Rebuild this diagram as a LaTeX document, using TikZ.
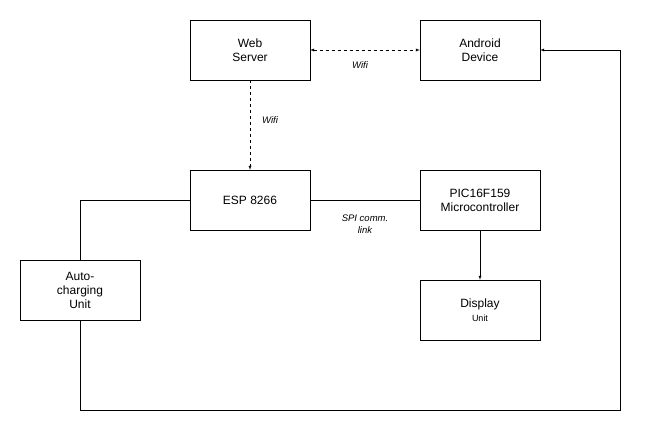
\documentclass[tikz,border=0pt]{standalone}
\usepackage{fontspec}
\setmainfont{Liberation Sans}
\begin{document}
\begin{tikzpicture}[x=1pt,y=-1pt,
  box/.style={draw,minimum width=120pt,minimum height=60pt,align=center,font=\fontsize{12}{14}\selectfont,inner sep=0pt},
  lbl/.style={font=\itshape\fontsize{9.5}{12}\selectfont,align=center},
  >=latex]
\useasboundingbox (0,0) rectangle (649,439);
\node[box] (web) at (250,50) {Web\\Server};
\node[box] (and) at (480,50) {Android\\Device};
\node[box] (esp) at (250,200) {ESP 8266};
\node[box] (pic) at (480,200) {PIC16F159\\Microcontroller};
\node[box] (disp) at (480,310) {Display\\{\fontsize{9}{11}\selectfont Unit}};
\node[box] (auto) at (80,290) {Auto-\\charging\\Unit};
\draw[dashed,<->] (web) -- (and);
\node[lbl] (w1) at (360,65) {Wifi};
\draw[dashed,->] (web) -- (esp);
\node[lbl] (w2) at (270,120) {Wifi};
\draw (esp) -- (pic);
\node[lbl] (spi) at (365,224) {SPI comm.\\link};
\draw[->] (pic) -- (disp);
\draw (esp.west) -| (auto.north);
\coordinate (c1) at (80,410);
\coordinate (c2) at (620,410);
\coordinate (c3) at (620,50);
\draw[->] (auto.south) -- (c1) -- (c2) -- (c3) -- (and.east);
\end{tikzpicture}
\end{document}
